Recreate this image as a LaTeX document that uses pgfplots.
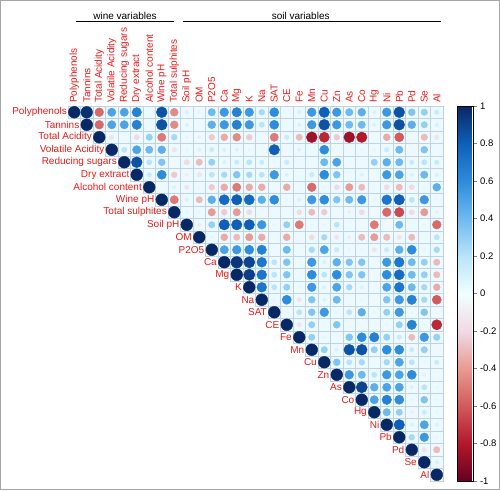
\documentclass[border=0pt]{standalone}
\usepackage{fontspec}
\setmainfont{Liberation Sans}
\usepackage{pgfplots}
\pgfplotsset{compat=1.18}
\usepackage{pgfplotstable}
\definecolor{lab}{RGB}{235,25,25}
\definecolor{bgc}{RGB}{236,250,255}
\definecolor{gridc}{RGB}{192,210,230}

\pgfplotstableread[row sep=\\]{
x y r\\
1 1 1\\2 1 0.97\\3 1 -0.55\\4 1 0.5\\5 1 0.5\\6 1 0.65\\7 1 0.02\\8 1 0.85\\9 1 -0.45\\10 1 0.1\\11 1 -0.08\\12 1 0.4\\13 1 0.55\\14 1 0.65\\15 1 0.55\\16 1 0.25\\17 1 0.6\\18 1 0.02\\19 1 0.1\\20 1 0.55\\21 1 0.8\\22 1 0.55\\23 1 0.4\\24 1 0.45\\25 1 0.1\\26 1 0.55\\27 1 0.85\\28 1 0.35\\29 1 0.3\\30 1 0.15\\
2 2 1\\3 2 -0.55\\4 2 0.5\\5 2 0.5\\6 2 0.65\\7 2 0.02\\8 2 0.85\\9 2 -0.45\\10 2 0.1\\11 2 -0.05\\12 2 0.45\\13 2 0.55\\14 2 0.65\\15 2 0.55\\16 2 0.2\\17 2 0.6\\18 2 0\\19 2 0.1\\20 2 0.55\\21 2 0.85\\22 2 0.55\\23 2 0.4\\24 2 0.4\\25 2 0.1\\26 2 0.55\\27 2 0.85\\28 2 0.45\\29 2 0.3\\30 2 0.1\\
3 3 1\\4 3 -0.15\\5 3 0\\6 3 -0.2\\7 3 0.3\\8 3 -0.5\\9 3 0.25\\10 3 0.05\\11 3 -0.1\\12 3 -0.25\\13 3 -0.35\\14 3 -0.45\\15 3 -0.25\\16 3 0\\17 3 -0.5\\18 3 0.15\\19 3 -0.3\\20 3 -0.85\\21 3 -0.75\\22 3 -0.25\\23 3 -0.85\\24 3 -0.8\\25 3 0\\26 3 -0.35\\27 3 -0.6\\28 3 0\\29 3 -0.3\\30 3 -0.15\\
4 4 1\\5 4 0.2\\6 4 0.5\\7 4 0.4\\8 4 0.45\\9 4 -0.15\\10 4 0.05\\11 4 0.1\\12 4 0.15\\13 4 0.1\\14 4 0.1\\15 4 0.05\\16 4 0\\17 4 0.8\\18 4 -0.05\\19 4 0.1\\20 4 0\\21 4 0.6\\22 4 0\\23 4 -0.05\\24 4 0.05\\25 4 0.05\\26 4 0.15\\27 4 0.4\\28 4 -0.05\\29 4 0.35\\30 4 0\\
5 5 1\\6 5 0.85\\7 5 0.2\\8 5 0.35\\9 5 -0.05\\10 5 -0.2\\11 5 -0.3\\12 5 0.3\\13 5 0.1\\14 5 0.15\\15 5 0.2\\16 5 0.15\\17 5 0.05\\18 5 0.15\\19 5 0\\20 5 0\\21 5 0.4\\22 5 0.5\\23 5 0\\24 5 0\\25 5 0.3\\26 5 0.45\\27 5 0.4\\28 5 0.15\\29 5 0.2\\30 5 0.15\\
6 6 1\\7 6 0.15\\8 6 0.6\\9 6 -0.25\\10 6 -0.1\\11 6 -0.15\\12 6 0.2\\13 6 0.25\\14 6 0.35\\15 6 0.25\\16 6 0.2\\17 6 0.55\\18 6 0.1\\19 6 0\\20 6 0.15\\21 6 0.6\\22 6 0.35\\23 6 0\\24 6 0.1\\25 6 0\\26 6 0.55\\27 6 0.5\\28 6 0.1\\29 6 0.4\\30 6 0.1\\
7 7 1\\8 7 0\\9 7 0.1\\10 7 -0.15\\11 7 0.05\\12 7 -0.25\\13 7 -0.35\\14 7 -0.5\\15 7 -0.35\\16 7 -0.35\\17 7 0.02\\18 7 -0.35\\19 7 -0.05\\20 7 -0.55\\21 7 0.05\\22 7 -0.2\\23 7 -0.4\\24 7 -0.3\\25 7 0\\26 7 -0.2\\27 7 -0.3\\28 7 -0.2\\29 7 0.05\\30 7 0.45\\
8 8 1\\9 8 -0.5\\10 8 0.1\\11 8 -0.3\\12 8 0.45\\13 8 0.75\\14 8 0.8\\15 8 0.75\\16 8 0.45\\17 8 0.6\\18 8 0.05\\19 8 0.1\\20 8 0.55\\21 8 0.6\\22 8 0.35\\23 8 0.4\\24 8 0.55\\25 8 0.05\\26 8 0.7\\27 8 0.8\\28 8 0.2\\29 8 0.55\\30 8 0.05\\
9 9 1\\10 9 0.05\\11 9 0.05\\12 9 -0.4\\13 9 -0.25\\14 9 -0.4\\15 9 -0.2\\16 9 -0.05\\17 9 0\\18 9 0\\19 9 -0.2\\20 9 -0.3\\21 9 -0.25\\22 9 0\\23 9 -0.1\\24 9 -0.2\\25 9 0\\26 9 -0.55\\27 9 -0.65\\28 9 -0.2\\29 9 -0.4\\30 9 -0.1\\
10 10 1\\11 10 -0.1\\12 10 0.3\\13 10 0.8\\14 10 0.8\\15 10 0.8\\16 10 0.55\\17 10 0.05\\18 10 0.3\\19 10 -0.5\\20 10 0.05\\21 10 0.05\\22 10 0.2\\23 10 0\\24 10 0\\25 10 -0.5\\26 10 0\\27 10 0.4\\28 10 0\\29 10 0.05\\30 10 -0.55\\
11 11 1\\12 11 0.05\\13 11 -0.35\\14 11 -0.3\\15 11 -0.4\\16 11 -0.35\\17 11 0\\18 11 -0.35\\19 11 0\\20 11 -0.2\\21 11 0.25\\22 11 -0.15\\23 11 -0.1\\24 11 -0.3\\25 11 -0.4\\26 11 -0.3\\27 11 -0.15\\28 11 -0.3\\29 11 -0.05\\30 11 0.2\\
12 12 1\\13 12 0.5\\14 12 0.55\\15 12 0.6\\16 12 0.65\\17 12 0\\18 12 0.4\\19 12 0\\20 12 0.25\\21 12 0.5\\22 12 0.15\\23 12 0.05\\24 12 0.05\\25 12 -0.15\\26 12 0.15\\27 12 0.45\\28 12 0.6\\29 12 0.05\\30 12 0.25\\
13 13 1\\14 13 0.95\\15 13 0.9\\16 13 0.7\\17 13 0.2\\18 13 0.35\\19 13 -0.05\\20 13 0.55\\21 13 0.1\\22 13 0.45\\23 13 0.35\\24 13 0.35\\25 13 -0.05\\26 13 0.55\\27 13 0.7\\28 13 0.4\\29 13 0.3\\30 13 -0.3\\
14 14 1\\15 14 0.92\\16 14 0.7\\17 14 0.2\\18 14 0.35\\19 14 -0.05\\20 14 0.6\\21 14 0.2\\22 14 0.6\\23 14 0.35\\24 14 0.35\\25 14 -0.05\\26 14 0.6\\27 14 0.75\\28 14 0.4\\29 14 0.3\\30 14 -0.3\\
15 15 1\\16 15 0.7\\17 15 0.2\\18 15 0.3\\19 15 0.05\\20 15 0.55\\21 15 0.1\\22 15 0.5\\23 15 0.25\\24 15 0.1\\25 15 0\\26 15 0.5\\27 15 0.7\\28 15 0.4\\29 15 0.25\\30 15 -0.35\\
16 16 1\\17 16 0.05\\18 16 0.6\\19 16 -0.15\\20 16 0.35\\21 16 0.1\\22 16 0.4\\23 16 0\\24 16 0.05\\25 16 -0.05\\26 16 0.35\\27 16 0.55\\28 16 0.65\\29 16 0.25\\30 16 -0.6\\
17 17 1\\18 17 0.05\\19 17 0.2\\20 17 0.35\\21 17 0.55\\22 17 0.05\\23 17 0.2\\24 17 0.45\\25 17 0.05\\26 17 0.3\\27 17 0.55\\28 17 0.05\\29 17 0.35\\30 17 -0.05\\
18 18 1\\19 18 -0.15\\20 18 0.3\\21 18 -0.05\\22 18 0.35\\23 18 0\\24 18 0\\25 18 0\\26 18 0.05\\27 18 0.3\\28 18 0.65\\29 18 0.05\\30 18 -0.75\\
19 19 1\\20 19 0.3\\21 19 0.05\\22 19 -0.05\\23 19 0.35\\24 19 0.6\\25 19 0.65\\26 19 0.3\\27 19 0.15\\28 19 -0.3\\29 19 0.55\\30 19 0.3\\
20 20 1\\21 20 0.3\\22 20 0.1\\23 20 0.85\\24 20 0.85\\25 20 0.3\\26 20 0.6\\27 20 0.6\\28 20 0.15\\29 20 0.3\\30 20 0\\
21 21 1\\22 21 0.35\\23 21 0.2\\24 21 0.25\\25 21 -0.05\\26 21 0.25\\27 21 0.5\\28 21 0.2\\29 21 0.05\\30 21 0.15\\
22 22 1\\23 22 0.55\\24 22 0.4\\25 22 0.2\\26 22 0.55\\27 22 0.5\\28 22 0.6\\29 22 -0.1\\30 22 0\\
23 23 1\\24 23 0.9\\25 23 0.45\\26 23 0.5\\27 23 0.5\\28 23 0.1\\29 23 0.2\\30 23 0.05\\
24 24 1\\25 24 0.5\\26 24 0.65\\27 24 0.6\\28 24 0.05\\29 24 0.35\\30 24 0.05\\
25 25 1\\26 25 0.4\\27 25 0.3\\28 25 -0.1\\29 25 0.15\\30 25 0.05\\
26 26 1\\27 26 0.8\\28 26 0.1\\29 26 0.5\\30 26 0.1\\
27 27 1\\28 27 0.25\\29 27 0.55\\30 27 0.05\\
28 28 1\\29 28 -0.15\\30 28 -0.3\\
29 29 1\\30 29 0.1\\
30 30 1\\
}\corrdata

\begin{document}
\begin{tikzpicture}
\path[use as bounding box] (0pt,0pt) rectangle (500pt,-490pt);
\draw[gray!70, line width=1pt] (0.5pt,-0.5pt) rectangle (499.5pt,-489.5pt);
\begin{axis}[
  at={(68pt,-481pt)}, anchor=south west,
  width=375pt, height=375pt, scale only axis,
  xmin=0.5, xmax=30.5, ymin=0.5, ymax=30.5,
  axis line style={draw=none},
  clip=false,
  xtick={1,...,30},
  xticklabels={Polyphenols,Tannins,Total Acidity,Volatile Acidity,Reducing sugars,Dry extract,Alcohol content,Wine pH,Total sulphites,Soil pH,OM,P2O5,Ca,Mg,K,Na,SAT,CE,Fe,Mn,Cu,Zn,As,Co,Hg,Ni,Pb,Pd,Se,Al},
  xticklabel pos=right,
  ytick=\empty,
  major tick length=0pt,
  xticklabel style={rotate=90, anchor=west, text=lab, font=\fontsize{10}{12}\selectfont, inner sep=3pt},
  colormap={corr}{rgb255(0cm)=(103,0,31); rgb255(1cm)=(178,24,43); rgb255(2cm)=(210,90,90); rgb255(3cm)=(232,155,145); rgb255(4cm)=(240,218,228); rgb255(5cm)=(240,255,255); rgb255(6cm)=(185,228,250); rgb255(7cm)=(110,185,240); rgb255(8cm)=(45,140,220); rgb255(9cm)=(15,95,185); rgb255(10cm)=(8,40,100)},
  point meta min=-1, point meta max=1,
  colorbar,
  colorbar style={
    at={(parent axis.north east)}, anchor=north west, xshift=6pt,
    width=16pt,
    ytick={-1,-0.8,-0.6,-0.4,-0.2,0,0.2,0.4,0.6,0.8,1},
    yticklabel style={font=\fontsize{9.5}{11}\selectfont, /pgf/number format/fixed, /pgf/number format/precision=1, /pgf/number format/assume math mode=true},
    major tick length=3pt, tick align=outside, ytick pos=right, yticklabel pos=right,
    axis line style={draw=black, line width=0.4pt},
  },
]
\pgfplotsinvokeforeach{1,...,30}{
  \draw[gridc, fill=bgc, line width=0.5pt] (axis cs:#1-0.5,30.5-#1) rectangle (axis cs:30.5,31.5-#1);
}
\pgfplotsinvokeforeach{2,...,30}{
  \draw[gridc, line width=0.5pt] (axis cs:#1-0.5,30.5) -- (axis cs:#1-0.5,31.5-#1);
}
\addplot[scatter, only marks, mark=*,
  scatter/use mapped color={draw=mapped color, fill=mapped color},
  point meta=\thisrow{r},
  visualization depends on={5.9*sqrt(abs(\thisrow{r}))\as\rad},
  scatter/@pre marker code/.append style={/tikz/mark size=\rad},
] table[x=x, y expr=31-\thisrow{y}] {\corrdata};
\foreach \i/\nm in {1/Polyphenols,2/Tannins,3/Total Acidity,4/Volatile Acidity,5/Reducing sugars,6/Dry extract,7/Alcohol content,8/Wine pH,9/Total sulphites,10/Soil pH,11/OM,12/P2O5,13/Ca,14/Mg,15/K,16/Na,17/SAT,18/CE,19/Fe,20/Mn,21/Cu,22/Zn,23/As,24/Co,25/Hg,26/Ni,27/Pb,28/Pd,29/Se,30/Al}{
  \edef\temp{\noexpand\node[anchor=east, text=lab, font=\noexpand\fontsize{10}{12}\noexpand\selectfont, inner sep=1pt] at (axis cs:\i-0.5,31-\i) {\nm};}
  \temp
}
\end{axis}
\node[font=\fontsize{10}{12}\selectfont] at (125pt,-15.5pt) {wine variables};
\draw[line width=1pt] (75.7pt,-21.7pt) -- (174pt,-21.7pt);
\node[font=\fontsize{10}{12}\selectfont] at (300.7pt,-15.5pt) {soil variables};
\draw[line width=1pt] (182.7pt,-21.7pt) -- (441pt,-21.7pt);
\end{tikzpicture}
\end{document}
